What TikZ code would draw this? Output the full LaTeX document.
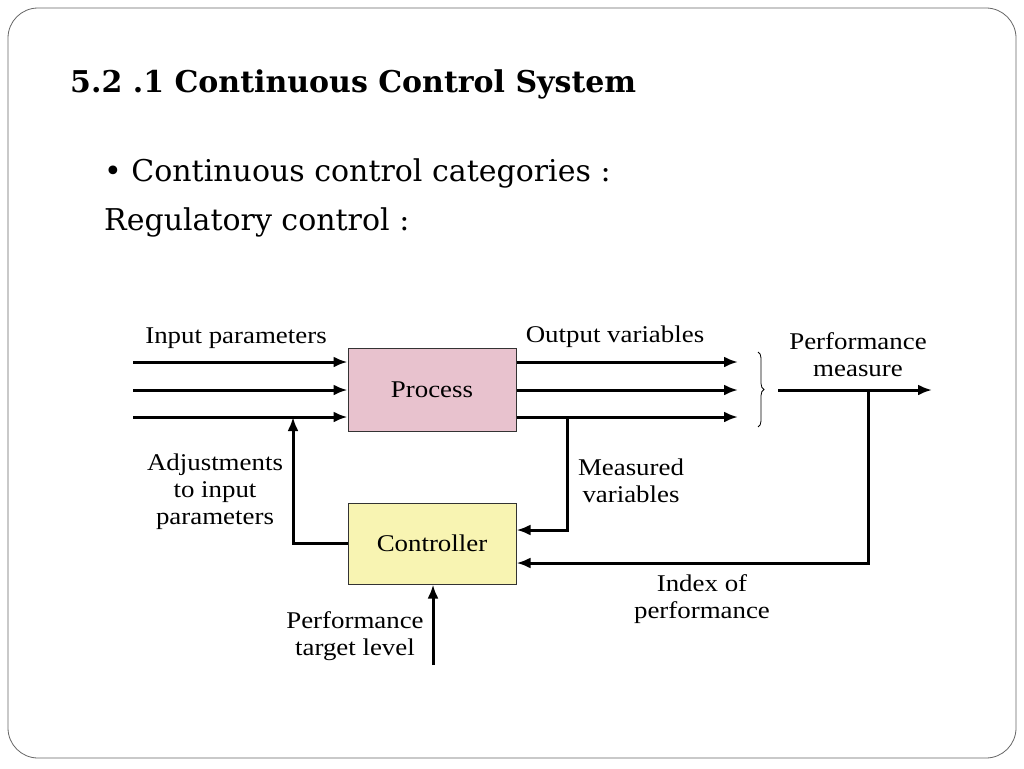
\documentclass[tikz,border=0pt]{standalone}
\usepackage{fontspec}
\setmainfont{DejaVu Serif}
\newfontfamily\diag{Liberation Serif}[FakeStretch=1.12]
\usetikzlibrary{arrows.meta,decorations.pathreplacing}
\definecolor{procfill}{HTML}{E8C2CE}
\definecolor{ctrlfill}{HTML}{F8F4B2}
\begin{document}
\begin{tikzpicture}[x=1pt,y=-1pt,
  blk/.style={draw=black!80,line width=1pt,minimum width=168pt,inner sep=0pt,font=\diag\fontsize{24}{24}\selectfont},
  arr/.style={line width=3pt,-{Latex[length=14pt,width=11pt]}},
  lbl/.style={font=\diag\fontsize{24}{27}\selectfont,align=center,inner sep=0pt}]
\useasboundingbox (0,0) rectangle (1024,768);
\draw[black!60,line width=0.8pt,rounded corners=30pt] (8,8) rectangle (1016,758);
\node[anchor=west,font=\bfseries\fontsize{30}{34}\selectfont,inner sep=0pt] (title) at (70,84) {5.2 .1 Continuous Control System};
\node[anchor=west,font=\fontsize{30}{34}\selectfont,inner sep=0pt] (b1) at (104,173) {• Continuous control categories :};
\node[anchor=west,font=\fontsize{30}{34}\selectfont,inner sep=0pt] (b2) at (104,222) {Regulatory control :};
\node[blk,fill=procfill,minimum height=83pt] (proc) at (432,389.5) {Process};
\node[blk,fill=ctrlfill,minimum height=81pt] (ctrl) at (432,543.5) {Controller};
\foreach \y/\n in {362/a,390/b,417/c}{
  \coordinate (i\n) at (133,\y);
  \coordinate (o\n) at (738,\y);
  \draw[arr] (i\n) -- (i\n -| proc.west);
  \draw[arr] (o\n -| proc.east) -- (o\n);
}
\draw[decorate,decoration={brace,amplitude=6pt},line width=0.8pt] (758,352) -- (758,427);
\coordinate (pm0) at (778,390);
\coordinate (pm1) at (932,390);
\draw[arr] (pm0) -- (pm1);
\coordinate (mv) at (567,417);
\draw[arr] (mv) |- (ctrl.east |- 0,530);
\coordinate (ip) at (868,390);
\draw[arr] (ip) |- (ctrl.east |- 0,563);
\coordinate (adj) at (293,417);
\draw[arr] (ctrl.west) -| (adj);
\coordinate (tg) at (433,665);
\draw[arr] (tg) -- (ctrl.south -| tg);
\node[lbl] (l1) at (236,338) {Input parameters};
\node[lbl] (l2) at (615,337) {Output variables};
\node[lbl] (l3) at (858,355) {Performance\\measure};
\node[lbl] (l4) at (215,492) {Adjustments\\to input\\parameters};
\node[lbl] (l5) at (631,481) {Measured\\variables};
\node[lbl] (l6) at (702,599) {Index of\\performance};
\node[lbl] (l7) at (355,636) {Performance\\target level};
\end{tikzpicture}
\end{document}
